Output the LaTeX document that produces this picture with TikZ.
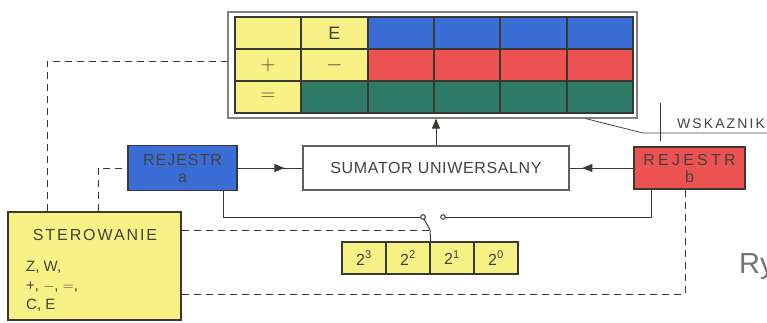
\documentclass[tikz,border=0pt]{standalone}
\usepackage{fontspec}
\setmainfont{Liberation Sans}
\usepackage{tikz}
\usetikzlibrary{arrows.meta,calc,decorations.markings,positioning}
\definecolor{sYellow}{RGB}{248,241,134}
\definecolor{sBlue}{RGB}{58,110,214}
\definecolor{sRed}{RGB}{236,82,82}
\definecolor{sGreen}{RGB}{46,122,102}
\definecolor{sInk}{RGB}{58,56,48}
\definecolor{sText}{RGB}{66,66,62}
\tikzset{
  sumWire/.style={draw=sInk, line width=1pt},
  sumCtrl/.style={draw=sInk, line width=1pt, dash pattern=on 7pt off 5pt},
  sumMidArrow/.style={postaction={decorate}, decoration={markings, mark=at position #1 with {\arrow{Triangle[length=10pt,width=8pt]}}}},
  sumCell/.style={draw=sInk, line width=1.8pt, minimum width=66.33pt, minimum height=32pt, inner sep=0pt},
  sumSign/.style={text=sText, font=\fontsize{21}{21}\selectfont},
  sumBit/.style={draw=sInk, line width=1.3pt, fill=sYellow, minimum width=44pt, minimum height=32pt, inner sep=0pt, text=sText, font=\fontsize{16}{16}\selectfont}
}

\begin{document}
\begin{tikzpicture}[x=1pt, y=-1pt,
    reg/.style={draw=sInk, line width=1.6pt, align=center, inner sep=0pt, text=sText, font=\fontsize{16}{17}\selectfont},
    lbl/.style={text=sText, inner sep=0pt},
    >={Triangle[length=10pt,width=8pt]}
  ]
  \useasboundingbox (0,0) rectangle (767,322);
  \node[draw=black!50, line width=1.2pt, fill=white, minimum width=409pt, minimum height=106pt] (frame) at (432.5,65) {};
  \foreach [count=\r] \row in {{sYellow,sYellow,sBlue,sBlue,sBlue,sBlue},{sYellow,sYellow,sRed,sRed,sRed,sRed},{sYellow,sGreen,sGreen,sGreen,sGreen,sGreen}}
    \foreach [count=\c] \col in \row
      \node[sumCell, fill=\col] (cell-\r-\c) at ({235+66.33*(\c-0.5)}, {17+32*(\r-0.5)}) {};
  \path (cell-1-2) node[sumSign, font=\fontsize{18}{18}\selectfont] {E}
        (cell-2-1) node[sumSign] {$+$}
        (cell-2-2) node[sumSign] {$-$}
        (cell-3-1) node[sumSign] {$=$};

  \node[reg, fill=sBlue, minimum width=109pt, minimum height=45pt] (regA) at (182.5,168) {{\addfontfeature{LetterSpace=6}REJESTR}\\a};
  \node[draw=sInk!80, line width=1.2pt, fill=white, minimum width=266pt, minimum height=44pt, text=sText, font=\fontsize{16}{16}\selectfont\addfontfeature{LetterSpace=4}] (sum) at (436,168) {SUMATOR UNIWERSALNY};
  \node[reg, fill=sRed, minimum width=111pt, minimum height=42pt] (regB) at (689.5,168) {{\addfontfeature{LetterSpace=20}REJESTR}\\b};
  \node[draw=sInk, line width=1.4pt, fill=sYellow, minimum width=173pt, minimum height=108pt] (ster) at (94.5,266) {};
  \node[lbl, font=\fontsize{16}{16}\selectfont\addfontfeature{LetterSpace=12}] (sterTitle) at (95,235) {STEROWANIE};
  \node[lbl, align=left, anchor=north west, font=\fontsize{15}{19}\selectfont] (sterList) at (26,261) {Z, W,\\+, $-$, $=$,\\C, E};
  \foreach \e [count=\i] in {3,2,1,0}
    \node[sumBit] (bit\e) at ({342+44*(\i-0.5)},258) {2\textsuperscript{\e}};

  \coordinate (swA) at (423,217);
  \coordinate (swB) at (443,217);
  \coordinate (swP) at (430,230);
  \coordinate (aOut) at (223,217);
  \coordinate (bOut) at (651,217);
  \coordinate (aCtl) at (98,168);
  \coordinate (fCtl) at (47,61);
  \coordinate (bCtl) at (685,294);
  \coordinate (wskBend) at (643,133);
  \coordinate (wskEnd) at (767,133);

  \draw[sumWire, sumMidArrow=0.72] (regA) -- (sum);
  \draw[sumWire, sumMidArrow=0.8] (regB) -- (sum);
  \draw[sumWire, ->] (sum) -- (sum |- frame.south);
  \draw[sumWire] (aOut |- regA.south) -- (aOut) -- (swA);
  \draw[sumWire] (swB) -- (bOut) -- (bOut |- regB.south);
  \draw[sumWire] (bit2.north east) -- (swP) -- (swA);
  \draw[sumWire, fill=white] (swA) circle (2.3pt) (swB) circle (2.3pt);

  \draw[sumCtrl] (fCtl |- ster.north) -- (fCtl) -- (frame.west |- fCtl);
  \draw[sumCtrl] (aCtl |- ster.north) -- (aCtl) -- (regA.west);
  \draw[sumCtrl] (ster.east |- swP) -- (swP);
  \draw[sumCtrl] (ster.east |- bCtl) -- (bCtl) -- (bCtl |- regB.south);

  \draw[sText, line width=0.8pt] ($(frame.south east)+(-52,0)$) -- (wskBend) -- (wskEnd);
  \draw[sInk, line width=1pt] (660,103) -- (660,141);
  \node[lbl, anchor=base, font=\fontsize{14}{14}\selectfont\addfontfeature{LetterSpace=15}] (wsk) at (721,128) {WSKAZNIK};
  \node[lbl, anchor=base west, text=black!55, font=\fontsize{29}{29}\selectfont] (rys) at (739,273) {Ry};
\end{tikzpicture}
\end{document}
